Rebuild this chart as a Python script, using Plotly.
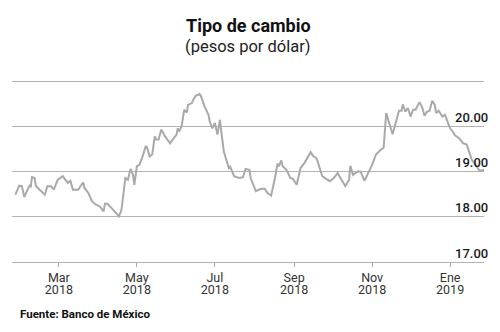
import plotly.graph_objects as go

dates = [
    "2018-01-26", "2018-01-29", "2018-01-31", "2018-02-02", "2018-02-04", "2018-02-06", "2018-02-07",
    "2018-02-08", "2018-02-10", "2018-02-11", "2018-02-14", "2018-02-18", "2018-02-20", "2018-02-23",
    "2018-02-25", "2018-02-28", "2018-03-04", "2018-03-06", "2018-03-08", "2018-03-10", "2018-03-12",
    "2018-03-16", "2018-03-20", "2018-03-21", "2018-03-24", "2018-03-27", "2018-03-30", "2018-04-02",
    "2018-04-05", "2018-04-06", "2018-04-08", "2018-04-11", "2018-04-14", "2018-04-17", "2018-04-19",
    "2018-04-22", "2018-04-24", "2018-04-26", "2018-04-28", "2018-04-29", "2018-05-01", "2018-05-03",
    "2018-05-05", "2018-05-08", "2018-05-09", "2018-05-11", "2018-05-13", "2018-05-15", "2018-05-16",
    "2018-05-18", "2018-05-20", "2018-05-21", "2018-05-23", "2018-05-27", "2018-05-29", "2018-06-01",
    "2018-06-02", "2018-06-03", "2018-06-05", "2018-06-07", "2018-06-09", "2018-06-10", "2018-06-13",
    "2018-06-14", "2018-06-16", "2018-06-19", "2018-06-20", "2018-06-23", "2018-06-26", "2018-06-27",
    "2018-06-29", "2018-07-01", "2018-07-03", "2018-07-05", "2018-07-06", "2018-07-08", "2018-07-10",
    "2018-07-12", "2018-07-13", "2018-07-16", "2018-07-20", "2018-07-23", "2018-07-25", "2018-07-28",
    "2018-07-29", "2018-08-02", "2018-08-06", "2018-08-09", "2018-08-11", "2018-08-14", "2018-08-17",
    "2018-08-19", "2018-08-20", "2018-08-22", "2018-08-23", "2018-08-26", "2018-08-29", "2018-08-31",
    "2018-09-03", "2018-09-06", "2018-09-09", "2018-09-11", "2018-09-14", "2018-09-16", "2018-09-18",
    "2018-09-19", "2018-09-23", "2018-09-26", "2018-09-29", "2018-10-02", "2018-10-05", "2018-10-08",
    "2018-10-11", "2018-10-14", "2018-10-15", "2018-10-17", "2018-10-21", "2018-10-23", "2018-10-26",
    "2018-11-01", "2018-11-04", "2018-11-08", "2018-11-10", "2018-11-12", "2018-11-15", "2018-11-17",
    "2018-11-19", "2018-11-22", "2018-11-24", "2018-11-25", "2018-11-27", "2018-11-29", "2018-12-01",
    "2018-12-03", "2018-12-05", "2018-12-08", "2018-12-10", "2018-12-12", "2018-12-14", "2018-12-16",
    "2018-12-18", "2018-12-20", "2018-12-21", "2018-12-23", "2018-12-26", "2018-12-28", "2018-12-30",
    "2019-01-01", "2019-01-03", "2019-01-05", "2019-01-08", "2019-01-11", "2019-01-14", "2019-01-16",
    "2019-01-18", "2019-01-21", "2019-01-24", "2019-01-28",
]

pesos = [
    18.49, 18.69, 18.68, 18.44, 18.57, 18.69, 18.67,
    18.88, 18.86, 18.68, 18.60, 18.49, 18.68, 18.68,
    18.60, 18.82, 18.90, 18.82, 18.75, 18.80, 18.60,
    18.60, 18.76, 18.64, 18.53, 18.34, 18.27, 18.23,
    18.12, 18.29, 18.29, 18.20, 18.10, 18.01, 18.16,
    18.86, 18.82, 19.06, 18.93, 18.71, 19.12, 19.15,
    19.30, 19.57, 19.53, 19.34, 19.38, 19.78, 19.71,
    19.71, 19.93, 19.89, 19.78, 19.63, 19.71, 19.82,
    19.96, 19.89, 20.00, 20.37, 20.31, 20.48, 20.52,
    20.59, 20.68, 20.72, 20.68, 20.44, 20.26, 20.11,
    19.96, 20.08, 19.82, 20.15, 19.89, 19.45, 19.26,
    19.08, 19.11, 18.90, 18.86, 18.88, 19.06, 19.04,
    18.86, 18.57, 18.62, 18.62, 18.53, 18.47, 18.86,
    19.18, 19.12, 19.25, 19.12, 19.04, 18.86, 18.84,
    18.71, 19.08, 19.19, 19.30, 19.43, 19.34, 19.31,
    19.26, 18.90, 18.84, 18.79, 18.86, 18.97, 18.82,
    18.68, 18.82, 19.13, 18.93, 19.01, 19.00, 18.80,
    19.15, 19.38, 19.49, 19.53, 20.30, 20.04, 19.83,
    20.04, 20.35, 20.35, 20.49, 20.33, 20.41, 20.22,
    20.37, 20.37, 20.54, 20.44, 20.24, 20.33, 20.35,
    20.57, 20.48, 20.30, 20.35, 20.22, 20.26, 20.11,
    19.96, 19.89, 19.80, 19.74, 19.63, 19.60, 19.45,
    19.26, 19.15, 19.02, 19.04,
]

x_tick_dates = ["2018-03-01", "2018-05-01", "2018-07-01", "2018-09-01", "2018-11-01", "2019-01-01"]
x_tick_months = ["Mar", "May", "Jul", "Sep", "Nov", "Ene"]
x_tick_years = ["2018", "2018", "2018", "2018", "2018", "2019"]
y_ticks = [17, 18, 19, 20, 21]
y_labels = ["17.00", "18.00", "19.00", "20.00", ""]

title_text = "Tipo de cambio"
subtitle_text = "(pesos por dólar)"
source_text = "Fuente: Banco de México"

x_range = ["2018-01-23 08:00", "2019-01-27 12:00"]
tick_font = dict(family="Roboto", size=12.5, color="#333")

fig = go.Figure()
fig.add_trace(go.Scatter(
    x=dates, y=pesos, mode="lines",
    line=dict(color="#a9a9a9", width=2),
    hoverinfo="skip", showlegend=False,
))
# invisible companion trace so the year axis is rendered
fig.add_trace(go.Scatter(
    x=[dates[0]], y=[pesos[0]], xaxis="x2", mode="lines",
    line=dict(width=0), hoverinfo="skip", showlegend=False, opacity=0,
))

fig.update_layout(
    width=500, height=332,
    margin=dict(l=12, r=16, t=80, b=70),
    paper_bgcolor="white", plot_bgcolor="white",
    xaxis=dict(
        type="date", range=x_range,
        tickvals=x_tick_dates, ticktext=x_tick_months,
        ticks="outside", ticklen=4, tickcolor="#aaa", tickwidth=1,
        showgrid=False, showline=True, linecolor="#b3b3b3", linewidth=1,
        zeroline=False, tickfont=tick_font, fixedrange=True,
    ),
    xaxis2=dict(
        type="date", range=x_range, overlaying="x", anchor="y", side="bottom",
        tickvals=x_tick_dates, ticktext=x_tick_years,
        ticks="outside", ticklen=16, tickcolor="rgba(0,0,0,0)",
        showgrid=False, showline=False, zeroline=False,
        tickfont=tick_font, fixedrange=True,
    ),
    yaxis=dict(
        range=[17, 21.03], tickvals=y_ticks, showticklabels=False,
        showgrid=True, gridcolor="#b3b3b3", gridwidth=1, zeroline=False,
        showline=False, fixedrange=True,
    ),
)

for v, lab in zip(y_ticks, y_labels):
    if lab:
        fig.add_annotation(
            x=1, xref="paper", y=v, yref="y", text=lab, showarrow=False,
            xanchor="right", yanchor="middle", xshift=6, yshift=9,
            font=dict(family="Roboto", size=13, color="#1a1a1a", weight=500),
        )

fig.add_annotation(
    x=0.5, xref="paper", y=1, yref="paper", yanchor="middle", yshift=55,
    text="<b>" + title_text + "</b>", showarrow=False, xanchor="center",
    font=dict(family="Roboto", size=18, color="#111"),
)
fig.add_annotation(
    x=0.5, xref="paper", y=1, yref="paper", yanchor="middle", yshift=34,
    text=subtitle_text, showarrow=False, xanchor="center",
    font=dict(family="Roboto", size=16.5, color="#222"),
)
fig.add_annotation(
    x=0, xref="paper", xshift=6, y=0, yref="paper", yanchor="middle", yshift=-52,
    text="<b>" + source_text + "</b>", showarrow=False, xanchor="left",
    font=dict(family="Roboto", size=11.5, color="#111"),
)

fig.write_html("out.html")
